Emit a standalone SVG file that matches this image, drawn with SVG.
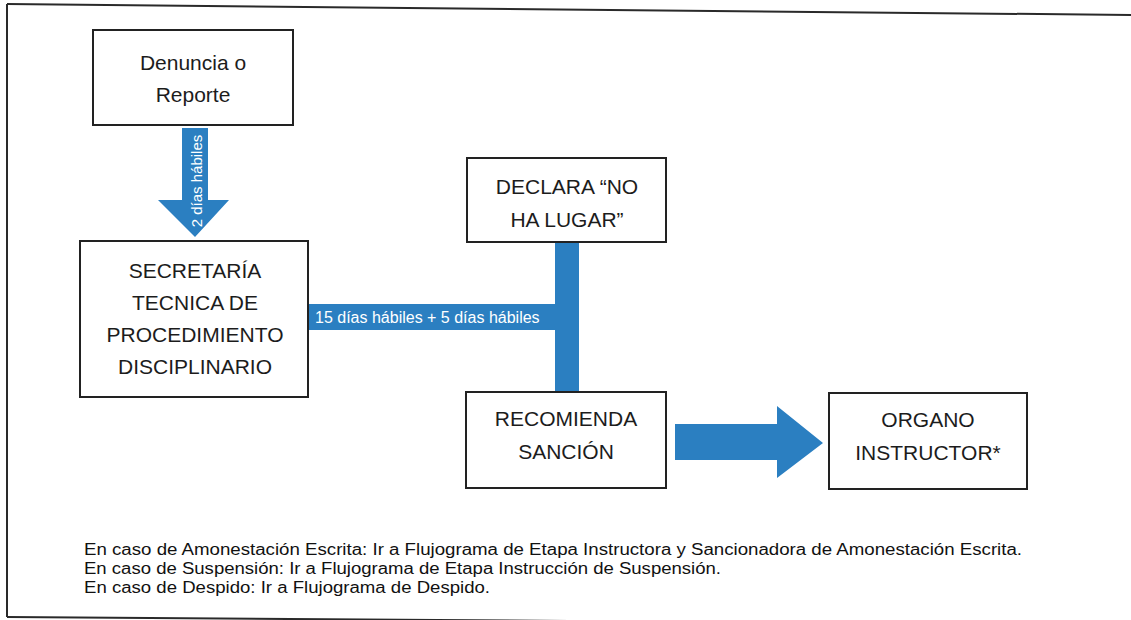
<svg xmlns="http://www.w3.org/2000/svg" width="1131" height="620" viewBox="0 0 1131 620">
  <style>
    .box { fill: #ffffff; stroke: #222222; stroke-width: 2; }
    .lbl { font-family: "Liberation Sans", Arial, sans-serif; font-size: 21px; fill: #1c1c1c; text-anchor: middle; }
    .flow { fill: #2b7fc1; }
    .flowtxt { font-family: "Liberation Sans", Arial, sans-serif; fill: #ffffff; }
    .note { font-family: "Liberation Sans", Arial, sans-serif; font-size: 16px; fill: #111111; }
    .frame { stroke: #2a2a2a; stroke-width: 2; fill: none; }
  </style>
  <rect width="1131" height="620" fill="#ffffff"/>
  <g id="frame">
    <line class="frame" x1="7" y1="4" x2="1131" y2="15"/>
    <line class="frame" x1="7" y1="4" x2="7" y2="617"/>
    <line class="frame" x1="7" y1="617" x2="1131" y2="625"/>
  </g>
  <g id="connectors">
    <polygon class="flow" points="182,128 208,128 208,200 229,200 195,237 158,200 182,200"/>
    <text class="flowtxt" font-size="15" text-anchor="middle" dominant-baseline="central" transform="translate(196,181) rotate(-90)">2 días hábiles</text>
    <rect class="flow" x="308" y="304" width="260" height="26"/>
    <rect class="flow" x="555" y="242" width="24" height="151"/>
    <text class="flowtxt" font-size="16" x="315" y="323">15 días hábiles + 5 días hábiles</text>
    <polygon class="flow" points="675,424 777,424 777,406 823,443 777,478 777,460 675,460"/>
  </g>
  <g id="node-denuncia">
    <rect class="box" x="93" y="30" width="200" height="95"/>
    <text class="lbl" x="193" y="70">Denuncia o</text>
    <text class="lbl" x="193" y="102">Reporte</text>
  </g>
  <g id="node-secretaria">
    <rect class="box" x="80" y="241" width="228" height="156"/>
    <text class="lbl" x="195" y="278">SECRETARÍA</text>
    <text class="lbl" x="195" y="310">TECNICA DE</text>
    <text class="lbl" x="195" y="342">PROCEDIMIENTO</text>
    <text class="lbl" x="195" y="374">DISCIPLINARIO</text>
  </g>
  <g id="node-declara">
    <rect class="box" x="467" y="158" width="199" height="84"/>
    <text class="lbl" x="567" y="194">DECLARA “NO</text>
    <text class="lbl" x="567" y="227">HA LUGAR”</text>
  </g>
  <g id="node-recomienda">
    <rect class="box" x="466" y="392" width="200" height="96"/>
    <text class="lbl" x="566" y="426">RECOMIENDA</text>
    <text class="lbl" x="566" y="459">SANCIÓN</text>
  </g>
  <g id="node-organo">
    <rect class="box" x="829" y="393" width="198" height="96"/>
    <text class="lbl" x="928" y="427">ORGANO</text>
    <text class="lbl" x="928" y="460">INSTRUCTOR*</text>
  </g>
  <g id="notes">
    <text class="note" x="84" y="555" textLength="938" lengthAdjust="spacingAndGlyphs">En caso de Amonestación Escrita: Ir a Flujograma de Etapa Instructora y Sancionadora de Amonestación Escrita.</text>
    <text class="note" x="84" y="574" textLength="637" lengthAdjust="spacingAndGlyphs">En caso de Suspensión: Ir a Flujograma de Etapa Instrucción de Suspensión.</text>
    <text class="note" x="84" y="593" textLength="406" lengthAdjust="spacingAndGlyphs">En caso de Despido: Ir a Flujograma de Despido.</text>
  </g>
</svg>
